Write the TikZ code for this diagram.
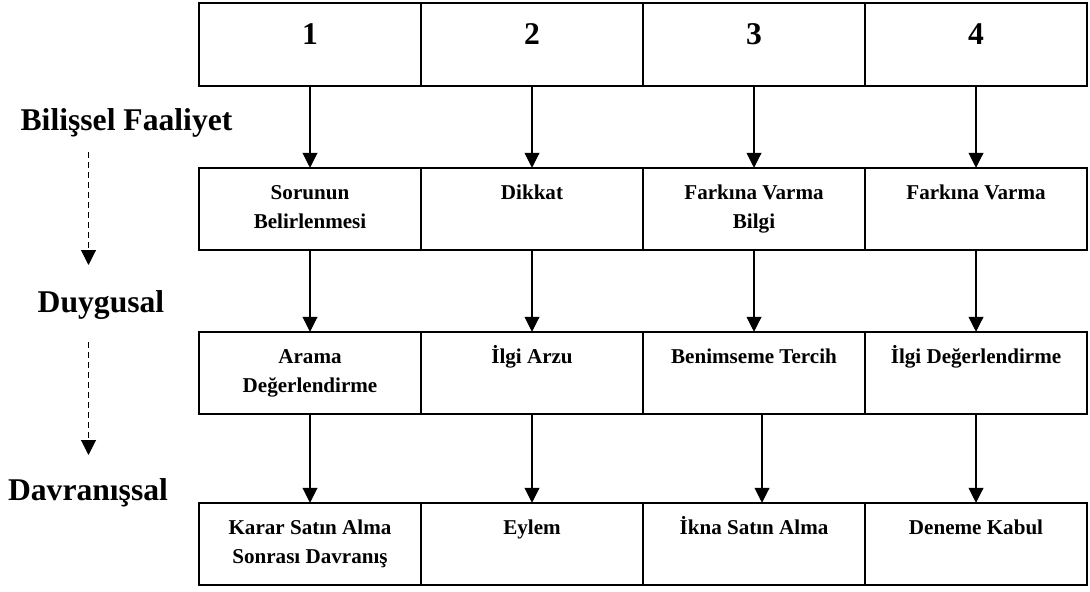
\documentclass[tikz,border=0pt]{standalone}
\usepackage{fontspec}
\setmainfont{Liberation Serif}
\usetikzlibrary{arrows.meta,positioning}

\begin{document}
\begin{tikzpicture}[
      node distance=1.64cm and 0pt,
      kutu/.style={draw, line width=1.3pt, minimum width=4.44cm, minimum height=1.65cm, inner sep=0pt, outer sep=0pt},
      yazi/.style={anchor=north, yshift=-6.9pt, align=center, inner sep=0pt, font=\fontsize{12}{16}\selectfont\bfseries},
      numara/.style={anchor=north, yshift=-7.7pt, inner sep=0pt, font=\fontsize{18}{22}\selectfont\bfseries},
      asama/.style={anchor=base, inner sep=0pt, font=\fontsize{18}{22}\selectfont\bfseries},
      ok/.style={-{Triangle[length=8.5pt, width=8.5pt]}, line width=0.6pt},
      kesik/.style={ok, dash pattern=on 3.4pt off 2.3pt}
    ]
    \useasboundingbox (0,0) rectangle (21.8,-11.84);

    \node[kutu, label={[numara]north:\strut 1}] (n1) at (6.2,-0.89) {};
    \node[kutu, right=of n1, label={[numara]north:\strut 2}] (n2) {};
    \node[kutu, right=of n2, label={[numara]north:\strut 3}] (n3) {};
    \node[kutu, right=of n3, label={[numara]north:\strut 4}] (n4) {};

    \node[kutu, below=of n1, label={[yazi]north:\strut Sorunun\\Belirlenmesi}] (b1) {};
    \node[kutu, right=of b1, label={[yazi]north:\strut Dikkat}] (b2) {};
    \node[kutu, right=of b2, label={[yazi]north:\strut Farkına Varma\\Bilgi}] (b3) {};
    \node[kutu, right=of b3, label={[yazi]north:\strut Farkına Varma}] (b4) {};

    \node[kutu, below=1.63cm of b1, label={[yazi]north:\strut Arama\\Değerlendirme}] (d1) {};
    \node[kutu, right=of d1, label={[yazi]north:\strut İlgi Arzu}] (d2) {};
    \node[kutu, right=of d2, label={[yazi]north:\strut Benimseme Tercih}] (d3) {};
    \node[kutu, right=of d3, label={[yazi]north:\strut İlgi Değerlendirme}] (d4) {};

    \node[kutu, below=1.77cm of d1, label={[yazi]north:\strut Karar Satın Alma\\Sonrası Davranış}] (v1) {};
    \node[kutu, right=of v1, label={[yazi]north:\strut Eylem}] (v2) {};
    \node[kutu, right=of v2, label={[yazi]north:\strut İkna Satın Alma}] (v3) {};
    \node[kutu, right=of v3, label={[yazi]north:\strut Deneme Kabul}] (v4) {};

    \draw[ok] (n1) -- (b1);
    \draw[ok] (n2) -- (b2);
    \draw[ok] (n3) -- (b3);
    \draw[ok] (n4) -- (b4);
    \draw[ok] (b1) -- (d1);
    \draw[ok] (b2) -- (d2);
    \draw[ok] (b3) -- (d3);
    \draw[ok] (b4) -- (d4);
    \draw[ok] (d1) -- (v1);
    \draw[ok] (d2) -- (v2);
    \draw[ok] ([xshift=0.16cm]d3.south) -- ([xshift=0.16cm]v3.north);
    \draw[ok] (d4) -- (v4);

    \node[asama] (bil) at (2.53,-2.62) {Bilişsel Faaliyet};
    \node[asama] (duy) at (2.02,-6.24) {Duygusal};
    \node[asama] (dav) at (1.76,-10.0) {Davranışsal};

    \coordinate (k1) at (1.77,-3.04);
    \coordinate (k2) at (1.77,-5.30);
    \coordinate (k3) at (1.77,-6.84);
    \coordinate (k4) at (1.77,-9.10);
    \draw[kesik] (k1) -- (k2);
    \draw[kesik] (k3) -- (k4);
  \end{tikzpicture}
\end{document}
